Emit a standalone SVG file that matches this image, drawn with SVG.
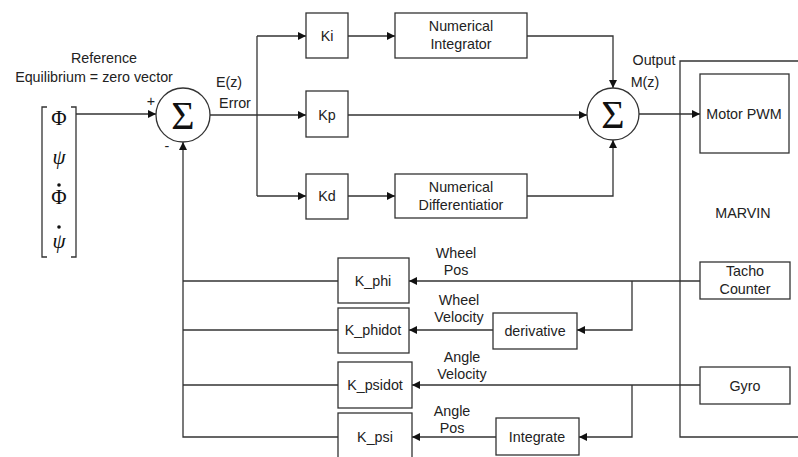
<svg xmlns="http://www.w3.org/2000/svg" width="798" height="457" viewBox="0 0 798 457">
<defs>
<marker id="ah" viewBox="0 0 10 10" refX="10" refY="5" markerWidth="8" markerHeight="8" markerUnits="userSpaceOnUse" orient="auto">
<path d="M0,0 L10,5 L0,10 z" fill="#111"/>
</marker>
</defs>
<style>
.box{fill:#fff;stroke:#333;stroke-width:1.3}
.ln{fill:none;stroke:#333;stroke-width:1.3}
.t{font-family:"Liberation Sans",Arial,sans-serif;font-size:14.3px;fill:#222;text-anchor:middle}
.sig{font-family:"Liberation Serif","Times New Roman",serif;font-size:40px;fill:#111;text-anchor:middle}
.m{font-family:"Liberation Serif","Times New Roman",serif;font-size:21px;fill:#111;text-anchor:middle}
</style>
<rect width="798" height="457" fill="#fff"/>

<g id="connectors">
<path class="ln" d="M76,114 H156" marker-end="url(#ah)"/>
<path class="ln" d="M210,115 H257"/>
<path class="ln" d="M257,36 V196"/>
<path class="ln" d="M257,36 H306" marker-end="url(#ah)"/>
<path class="ln" d="M257,115 H306" marker-end="url(#ah)"/>
<path class="ln" d="M257,196 H306" marker-end="url(#ah)"/>
<path class="ln" d="M348,36 H395" marker-end="url(#ah)"/>
<path class="ln" d="M348,196 H395" marker-end="url(#ah)"/>
<path class="ln" d="M348,115 H587" marker-end="url(#ah)"/>
<path class="ln" d="M527,36 H613 V88" marker-end="url(#ah)"/>
<path class="ln" d="M527,196 H613 V140" marker-end="url(#ah)"/>
<path class="ln" d="M639,114 H700" marker-end="url(#ah)"/>
<path class="ln" d="M700,281 H409" marker-end="url(#ah)"/>
<path class="ln" d="M632,281 V330 H577" marker-end="url(#ah)"/>
<path class="ln" d="M493,330 H409" marker-end="url(#ah)"/>
<path class="ln" d="M700,385 H412" marker-end="url(#ah)"/>
<path class="ln" d="M632,385 V437 H579" marker-end="url(#ah)"/>
<path class="ln" d="M496,437 H412" marker-end="url(#ah)"/>
<path class="ln" d="M338,281 H183"/>
<path class="ln" d="M338,330 H183"/>
<path class="ln" d="M338,385 H183"/>
<path class="ln" d="M338,437 H183 V142" marker-end="url(#ah)"/>
</g>

<g id="marvin">
<path class="ln" d="M800,61 H680 V437 H800"/>
<text class="t" x="743" y="218">MARVIN</text>
</g>

<g id="reference">
<text class="t" x="104" y="63">Reference</text>
<text class="t" x="94" y="82">Equilibrium = zero vector</text>
<path class="ln" d="M47,107 H42 V257 H47" stroke="#555"/>
<path class="ln" d="M71,107 H76 V257 H71" stroke="#555"/>
<text class="m" x="59" y="125">Φ</text>
<text class="m" x="59" y="164" font-style="italic">ψ</text>
<text class="m" x="59" y="204">Φ</text>
<circle cx="59" cy="185" r="1.8" fill="#111"/>
<text class="m" x="59" y="248" font-style="italic">ψ</text>
<circle cx="59" cy="227" r="1.8" fill="#111"/>
</g>

<g id="sum1">
<circle cx="183" cy="115" r="27" class="box"/>
<text class="sig" x="183" y="129">Σ</text>
<text class="t" x="151" y="106" font-size="11">+</text>
<text class="t" x="167" y="151" font-size="13">-</text>
<text class="t" x="229" y="87">E(z)</text>
<text class="t" x="235" y="108">Error</text>
</g>

<g id="ki"><rect class="box" x="306" y="13" width="42" height="45"/><text class="t" x="327" y="41">Ki</text></g>
<g id="kp"><rect class="box" x="306" y="91" width="42" height="46"/><text class="t" x="327" y="120">Kp</text></g>
<g id="kd"><rect class="box" x="306" y="174" width="42" height="45"/><text class="t" x="327" y="201">Kd</text></g>

<g id="integrator"><rect class="box" x="395" y="13" width="132" height="45"/>
<text class="t" x="461" y="31">Numerical</text><text class="t" x="461" y="49">Integrator</text></g>
<g id="differentiator"><rect class="box" x="395" y="174" width="132" height="44"/>
<text class="t" x="461" y="192">Numerical</text><text class="t" x="461" y="210">Differentiatior</text></g>

<g id="sum2">
<circle cx="613" cy="114" r="26" class="box"/>
<text class="sig" x="613" y="128">Σ</text>
<text class="t" x="654" y="65">Output</text>
<text class="t" x="645" y="87">M(z)</text>
</g>

<g id="motor"><rect class="box" x="700" y="74" width="89" height="79"/><text class="t" x="744" y="119">Motor PWM</text></g>
<g id="tacho"><rect class="box" x="700" y="262" width="90" height="37"/>
<text class="t" x="745" y="276">Tacho</text><text class="t" x="745" y="294">Counter</text></g>
<g id="gyro"><rect class="box" x="700" y="367" width="90" height="37"/><text class="t" x="745" y="391">Gyro</text></g>

<g id="derivative"><rect class="box" x="493" y="313" width="84" height="36"/><text class="t" x="535" y="336">derivative</text></g>
<g id="integrate"><rect class="box" x="496" y="418" width="83" height="37"/><text class="t" x="537" y="442">Integrate</text></g>

<g id="k_phi"><rect class="box" x="338" y="258" width="71" height="45"/><text class="t" x="373" y="286">K_phi</text></g>
<g id="k_phidot"><rect class="box" x="338" y="308" width="71" height="45"/><text class="t" x="373" y="335">K_phidot</text></g>
<g id="k_psidot"><rect class="box" x="338" y="362" width="74" height="46"/><text class="t" x="375" y="390">K_psidot</text></g>
<g id="k_psi"><rect class="box" x="338" y="413" width="74" height="46"/><text class="t" x="375" y="442">K_psi</text></g>

<g id="labels">
<text class="t" x="456" y="258">Wheel</text><text class="t" x="456" y="275">Pos</text>
<text class="t" x="459" y="305">Wheel</text><text class="t" x="459" y="322">Velocity</text>
<text class="t" x="462" y="362">Angle</text><text class="t" x="462" y="379">Velocity</text>
<text class="t" x="452" y="416">Angle</text><text class="t" x="452" y="433">Pos</text>
</g>
</svg>
